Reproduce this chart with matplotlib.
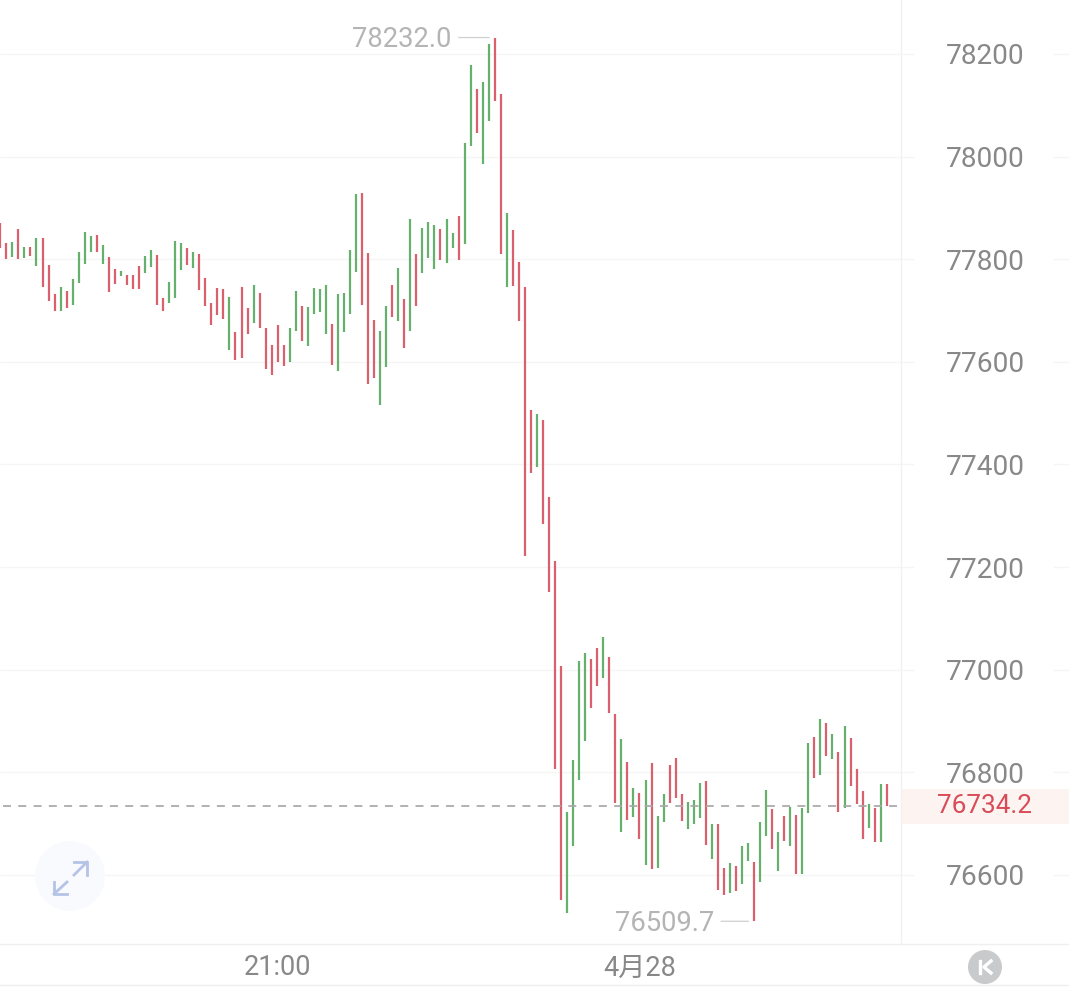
import matplotlib
matplotlib.use('Agg')
import matplotlib.pyplot as plt
from matplotlib.lines import Line2D
from matplotlib.patches import Circle

plt.rcParams['font.family'] = ['Roboto', 'Noto Sans CJK SC']

W, H = 1069, 989
CHART_BOTTOM = 944

# one entry per bar, left to right
highs = [
    77870, 77832, 77833, 77859, 77824, 77824, 77842, 77842, 77789, 77732,
    77745, 77738, 77762, 77814, 77853, 77845, 77848, 77827, 77805, 77780,
    77777, 77770, 77769, 77786, 77807, 77818, 77809, 77724, 77756, 77835,
    77831, 77822, 77814, 77810, 77763, 77714, 77743, 77742, 77727, 77659,
    77745, 77704, 77749, 77734, 77665, 77633, 77672, 77632, 77665, 77738,
    77709, 77707, 77743, 77741, 77749, 77673, 77732, 77735, 77817, 77928,
    77929, 77812, 77682, 77660, 77709, 77749, 77782, 77723, 77879, 77810,
    77860, 77872, 77866, 77858, 77879, 77851, 77884, 78027, 78178, 78131,
    78145, 78220, 78232, 78122, 77891, 77856, 77795, 77745, 77507, 77499,
    77487, 77336, 77212, 77008, 76722, 76824, 77017, 77032, 77021, 77043,
    77063, 77024, 76914, 76865, 76821, 76770, 76759, 76786, 76818, 76714,
    76757, 76814, 76828, 76758, 76743, 76747, 76780, 76784, 76699, 76700,
    76613, 76623, 76617, 76656, 76663, 76626, 76704, 76766, 76728, 76684,
    76715, 76732, 76716, 76730, 76857, 76868, 76903, 76897, 76875, 76840,
    76890, 76866, 76806, 76763, 76738, 76730, 76778, 76777,
]
lows = [
    77822, 77801, 77804, 77800, 77803, 77806, 77787, 77745, 77719, 77699,
    77699, 77704, 77710, 77754, 77791, 77814, 77814, 77790, 77736, 77752,
    77767, 77749, 77742, 77742, 77773, 77785, 77710, 77699, 77715, 77725,
    77779, 77789, 77782, 77740, 77708, 77671, 77691, 77684, 77624, 77604,
    77608, 77654, 77675, 77665, 77587, 77574, 77599, 77591, 77599, 77660,
    77640, 77630, 77694, 77697, 77654, 77594, 77582, 77659, 77693, 77775,
    77710, 77556, 77569, 77516, 77589, 77688, 77680, 77627, 77661, 77708,
    77773, 77803, 77780, 77799, 77792, 77822, 77799, 77830, 78021, 78046,
    77986, 78070, 78109, 77811, 77745, 77748, 77680, 77222, 77384, 77396,
    77283, 77151, 76807, 76551, 76525, 76656, 76786, 76861, 76925, 76969,
    76984, 76915, 76741, 76684, 76707, 76712, 76670, 76620, 76612, 76614,
    76704, 76740, 76750, 76705, 76689, 76700, 76710, 76659, 76632, 76570,
    76561, 76565, 76569, 76582, 76628, 76509.7, 76587, 76676, 76651, 76608,
    76667, 76656, 76601, 76601, 76721, 76789, 76794, 76831, 76825, 76723,
    76731, 76774, 76739, 76670, 76691, 76665, 76665, 76735,
]
directions = (
    'rrgrgrgrrr' 'grggggrgrr'
    'grrrggrrgg' 'grgrrrrrgr'
    'rrgrrrrrgg' 'rggggrgggg'
    'rrrggrgrgr' 'gggrggrggr'
    'ggrrgrrrrg' 'rrrrggggrr'
    'grrgrgrgrg' 'grrrgggrgr'
    'rgrggrggrg' 'rgrggrgrgr'
    'grrrgrgr'
)

price_ticks = [78200, 78000, 77800, 77600, 77400, 77200, 77000, 76800, 76600]
time_ticks = [46, 106]
time_labels = ['21:00', '4月28']
last_price = 76734.2

RED = '#d9606c'
GREEN = '#66b06e'
GRID = '#f5f5f6'
LABEL = '#888888'
MUTED = '#b4b4b4'


def px(x, y):
    return x / W, 1 - y / H


fig = plt.figure(figsize=(W / 100, H / 100), dpi=100, facecolor='white')
ax = fig.add_axes([0, 1 - CHART_BOTTOM / H, 1, CHART_BOTTOM / H])
ax.set_xlim(-0.05, 177.23)
ax.set_ylim(76465.4, 78305.2)

for side in ['top', 'left', 'right']:
    ax.spines[side].set_visible(False)
ax.spines['bottom'].set_color('#efeff0')
ax.spines['bottom'].set_linewidth(1.0)

# grid stops either side of the price labels
trans = ax.get_yaxis_transform()
ax.hlines(price_ticks, 0, 914 / W, transform=trans, color=GRID, lw=0.9, zorder=1)
ax.hlines(price_ticks, 1053 / W, 1, transform=trans, color=GRID, lw=0.9, zorder=1)
ax.axvline(149.4, color='#f1f1f2', lw=1.0, zorder=1)

ax.axhspan(last_price - 34, last_price + 34, xmin=902 / W, xmax=1,
           color='#fdf3f1', lw=0, zorder=1)

idx = list(range(len(highs)))
colors = [RED if d == 'r' else GREEN for d in directions]
ax.vlines(idx, lows, highs, colors=colors, lw=1.6, zorder=3, capstyle='butt')

ax.plot([0.4, 148.7], [last_price, last_price], color='#a8a8a8', lw=1.25,
        linestyle=(0, (4.6, 4.2)), zorder=4)

ax.yaxis.tick_right()
ax.set_yticks(price_ticks)
ax.set_yticklabels([str(p) for p in price_ticks], ha='center')
ax.tick_params(axis='y', length=0, pad=-60.5, labelsize=20.2, labelcolor=LABEL)
ax.set_xticks(time_ticks)
ax.set_xticklabels(time_labels)
ax.tick_params(axis='x', length=0, pad=7.5, labelsize=19.5, labelcolor=LABEL)

ax.text(1 - 84 / W, last_price, f'{last_price:.1f}', transform=trans,
        ha='center', va='center', fontsize=18.8, color='#d84c58', zorder=5)

# max / min callouts
hi_i = highs.index(max(highs))
lo_i = lows.index(min(lows))
for i, val, dx in [(hi_i, highs[hi_i], -43), (lo_i, lows[lo_i], -40)]:
    ax.annotate(f'{val:.1f}', xy=(i, val), xytext=(dx, -2),
                textcoords='offset pixels', ha='right', va='center',
                fontsize=19.7, color=MUTED)
    ax.annotate('', xy=(i, val), xytext=(dx + 7, 0),
                textcoords='offset pixels',
                arrowprops=dict(arrowstyle='-', color='#cfcfcf', lw=0.9,
                                shrinkA=0, shrinkB=4))

# bottom border under the time axis
fig.add_artist(Line2D([0, 1], [1 - 985 / H] * 2, color='#efeff0', lw=1.0))

# expand button
fig.add_artist(Circle((70, H - 876), 35, transform=None, facecolor='#f9fafe',
                      edgecolor='none', zorder=2))
icon = '#b4c3e6'
for xs, ys in [
    ([74, 87], [875, 862]), ([74, 87, 87], [862, 862, 875]),
    ([54, 67], [894, 882]), ([54, 54, 67], [882, 894, 894]),
]:
    xf, yf = zip(*[px(a, b) for a, b in zip(xs, ys)])
    fig.add_artist(Line2D(xf, yf, color=icon, lw=2.0, zorder=3))

# K button
fig.add_artist(Circle((985, H - 967), 17, transform=None, facecolor='#c9cacc',
                      edgecolor='none', zorder=2))
for xs, ys in [([980, 980], [961, 973]), ([991, 984, 991], [961, 967, 973])]:
    xf, yf = zip(*[px(a, b) for a, b in zip(xs, ys)])
    fig.add_artist(Line2D(xf, yf, color='white', lw=2.4, zorder=3))

fig.savefig('out.png', dpi=100, facecolor='white')
